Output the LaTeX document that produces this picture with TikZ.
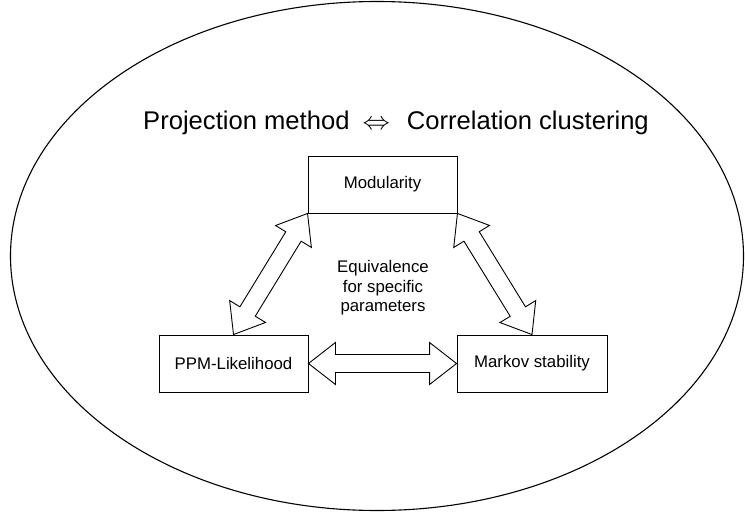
\documentclass[tikz,border=0pt]{standalone}
\usepackage{fontspec}
\setmainfont{Liberation Sans}
\usetikzlibrary{calc}
\newcommand\flexarrow[2]{%
  \draw[flexarr] (#1)
    -- ($(#1)!27pt!(#2)!21pt!90:(#2)$)
    -- ($(#1)!27pt!(#2)!9pt!90:(#2)$)
    -- ($(#2)!27pt!(#1)!9pt!-90:(#1)$)
    -- ($(#2)!27pt!(#1)!21pt!-90:(#1)$)
    -- (#2)
    -- ($(#2)!27pt!(#1)!21pt!90:(#1)$)
    -- ($(#2)!27pt!(#1)!9pt!90:(#1)$)
    -- ($(#1)!27pt!(#2)!9pt!-90:(#2)$)
    -- ($(#1)!27pt!(#2)!21pt!-90:(#2)$)
    -- cycle;}
\tikzset{
  box/.style={draw, line width=0.9pt, minimum width=149pt, minimum height=57pt, inner sep=0pt,
    font=\fontsize{16.8}{19}\selectfont},
  flexarr/.style={draw, line width=0.9pt, fill=white, line join=miter},
  outer/.style={draw, line width=1.1pt}
}
\begin{document}
\begin{tikzpicture}[x=1pt, y=-1pt]
\useasboundingbox (0,0) rectangle (745,514);
\draw[outer] (377,256) ellipse [x radius=366.5pt, y radius=254.5pt];
\node[anchor=base west, inner sep=0pt, font=\fontsize{25.6}{30}\selectfont] (title) at (143,129)
  {Projection method\hspace{13pt}\scalebox{1.1}[1]{$\Leftrightarrow$}\hspace{17pt}Correlation clustering};
\node[box] (mod) at (382.5,184.5) {Modularity};
\node[box] (ppm) at (233.5,363.5) {PPM-Likelihood};
\node[box, minimum width=150pt] (mar) at (532,363.5) {Markov stability};
\node[align=center, inner sep=0pt, font=\fontsize{16.8}{19.5}\selectfont] (eq) at (383,288)
  {Equivalence\\for specific\\parameters};
\flexarrow{mod.south west}{ppm.north}
\flexarrow{mod.south east}{mar.north}
\flexarrow{ppm.east}{mar.west}
\end{tikzpicture}
\end{document}
